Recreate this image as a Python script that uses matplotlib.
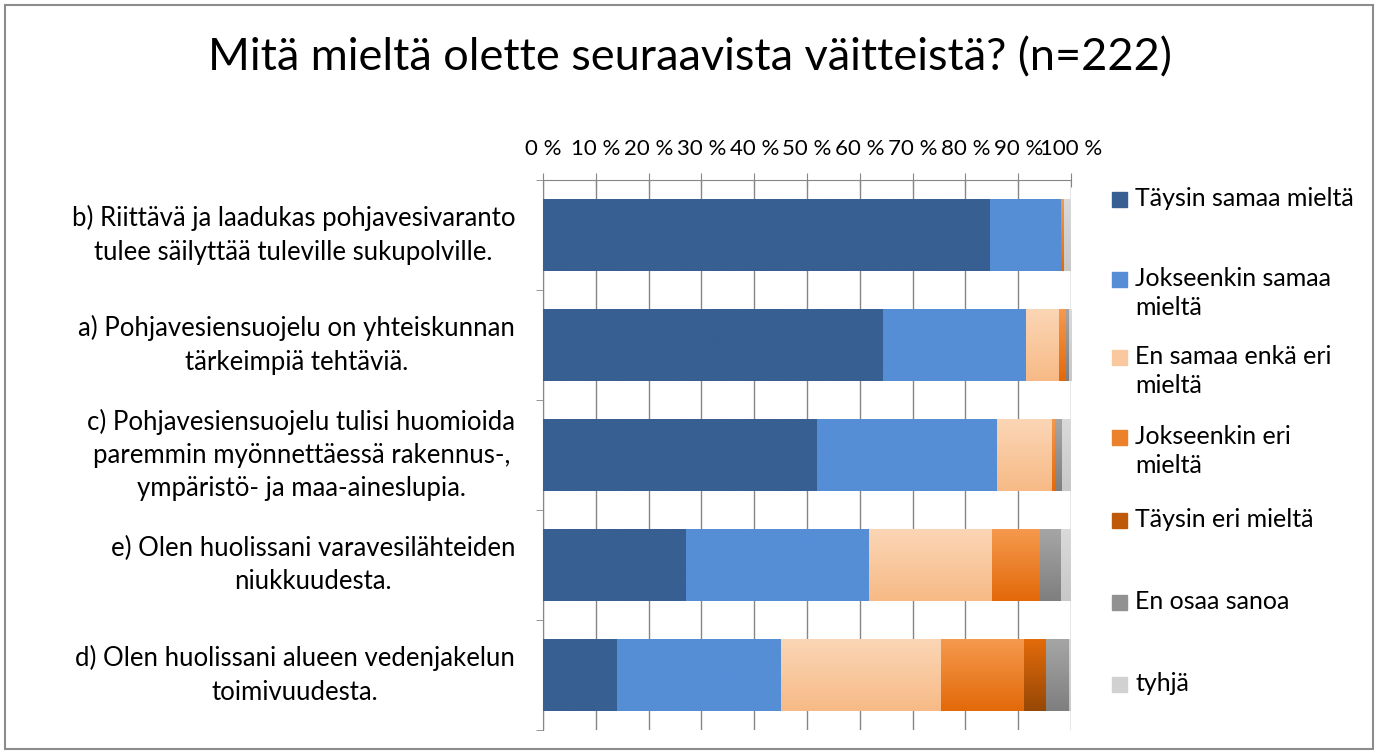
import numpy as np
import matplotlib.pyplot as plt
from matplotlib.colors import LinearSegmentedColormap
from matplotlib.patches import Rectangle

plt.rcParams['font.family'] = ['Lato', 'DejaVu Sans']

statements = [
    'b) Riittävä ja laadukas pohjavesivaranto\ntulee säilyttää tuleville sukupolville.',
    'a) Pohjavesiensuojelu on yhteiskunnan\ntärkeimpiä tehtäviä.',
    'c) Pohjavesiensuojelu tulisi huomioida\nparemmin myönnettäessä rakennus-,\nympäristö- ja maa-aineslupia.',
    'e) Olen huolissani varavesilähteiden\nniukkuudesta.',
    'd) Olen huolissani alueen vedenjakelun\ntoimivuudesta.',
]
series = ['Täysin samaa mieltä', 'Jokseenkin samaa\nmieltä', 'En samaa enkä eri\nmieltä',
          'Jokseenkin eri\nmieltä', 'Täysin eri mieltä', 'En osaa sanoa', 'tyhjä']

# percent of answers, order b, a, c, e, d
taysin_samaa = [84.7, 64.4, 51.8, 27.0, 14.0]
jokseenkin_samaa = [13.5, 27.0, 34.2, 34.7, 31.1]
en_samaa_en_eri = [0.0, 6.3, 10.4, 23.4, 30.2]
jokseenkin_eri = [0.5, 1.4, 0.5, 9.0, 15.8]
taysin_eri = [0.0, 0.0, 0.0, 0.0, 4.1]
en_osaa = [0.0, 0.5, 1.4, 4.1, 4.5]
tyhja = [1.3, 0.4, 1.7, 1.8, 0.3]
values = [taysin_samaa, jokseenkin_samaa, en_samaa_en_eri, jokseenkin_eri, taysin_eri, en_osaa, tyhja]

# top / bottom colour of each series (gradient)
grad = [('#375F92', '#375F92'), ('#558ED5', '#558ED5'), ('#FBD6B6', '#F7BA86'),
        ('#F59A4E', '#E3690A'), ('#E46C0A', '#974706'), ('#A6A6A6', '#7F7F7F'),
        ('#DADADA', '#C8C8C8')]

W, H = 1379, 752
fig = plt.figure(figsize=(W / 100, H / 100), dpi=100)
ax = fig.add_axes([543 / W, 1 - 730 / H, 528 / W, 550 / H])

y = np.arange(len(statements))
left = np.zeros(len(statements))
for vals, (c1, c2) in zip(values, grad):
    bars = ax.barh(y, vals, left=left, height=0.655, color=c2, linewidth=0, zorder=3)
    cmap = LinearSegmentedColormap.from_list('g', [c1, c2])
    for p in bars.patches:
        if p.get_width() <= 0:
            continue
        x0, y0 = p.get_x(), p.get_y()
        im = ax.imshow(np.linspace(0, 1, 64).reshape(-1, 1), cmap=cmap, aspect='auto',
                       extent=(x0, x0 + p.get_width(), y0 + p.get_height(), y0),
                       origin='upper', zorder=3.5)
        im.set_clip_path(p)
    left += np.array(vals)

ax.set_xlim(0, 100)
ax.set_ylim(len(statements) - 0.5, -0.5)

ax.xaxis.tick_top()
ax.set_xticks(np.arange(0, 101, 10))
ax.set_xticklabels([f'{v} %' for v in range(0, 101, 10)], fontsize=16)
ax.tick_params(axis='x', direction='inout', length=10, color='#868686', pad=10)
ax.grid(axis='x', color='#868686', linewidth=1, zorder=0)

ax.set_yticks(y)
ax.set_yticklabels(statements, fontsize=18.5, ma='center', linespacing=1.42, va='center')
ax.set_yticks(np.arange(-0.5, len(statements)), minor=True)
ax.tick_params(axis='y', which='major', length=0, pad=20)
ax.tick_params(axis='y', which='minor', length=5, color='#868686', direction='out')

for s in ['right', 'bottom']:
    ax.spines[s].set_visible(False)
for s in ['top', 'left']:
    ax.spines[s].set_color('#868686')

fig.text(0.5, 1 - 58 / H, 'Mitä mieltä olette seuraavista väitteistä? (n=222)',
         ha='center', va='center', fontsize=32.5)

# legend, drawn by hand to follow the original spacing
legend_y = [200, 280, 358, 438, 521, 603, 685]
for name, (c1, c2), ly in zip(series, grad, legend_y):
    mid = LinearSegmentedColormap.from_list('g', [c1, c2])(0.5)
    fig.patches.append(Rectangle((1112 / W, 1 - (ly + 7) / H), 15 / W, 15 / H,
                                 transform=fig.transFigure, color=mid))
    fig.text(1135 / W, 1 - (ly - 13) / H, name, ha='left', va='top', fontsize=18,
             linespacing=1.33)

fig.patches.append(Rectangle((5 / W, 3 / H), 1368 / W, 744 / H, transform=fig.transFigure,
                             fill=False, edgecolor='#8C8C8C', linewidth=1.5))

fig.savefig('out.png', dpi=100)
